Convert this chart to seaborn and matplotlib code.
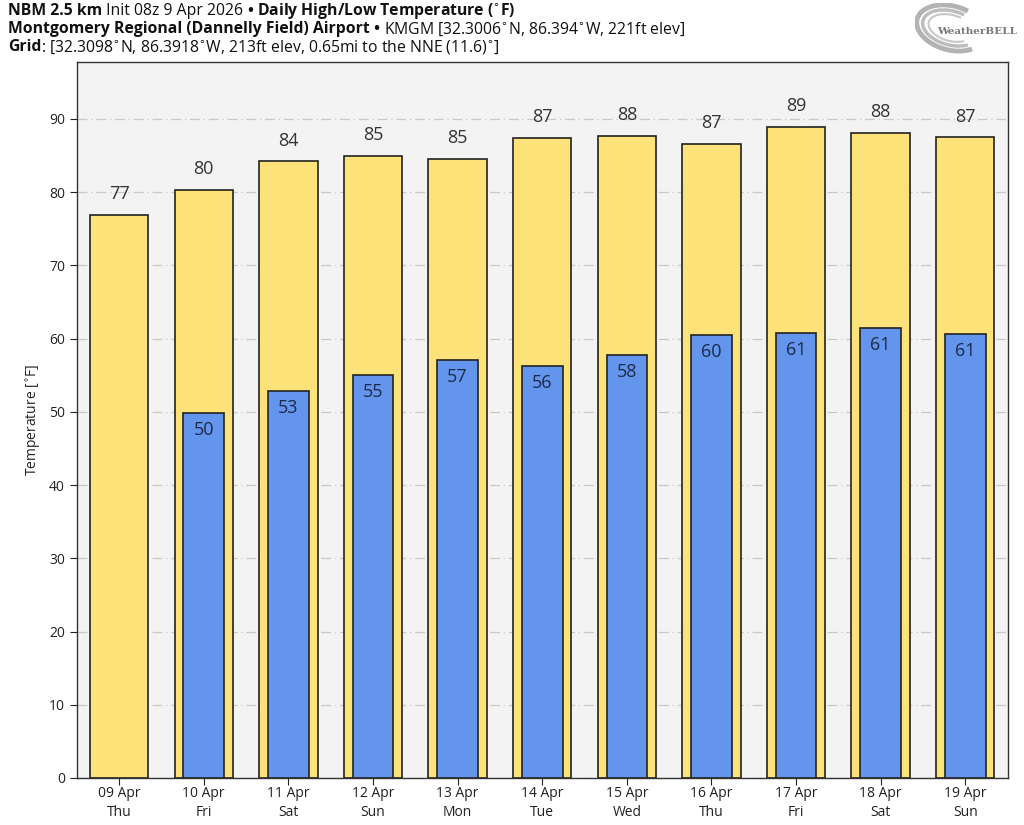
import matplotlib
matplotlib.use("Agg")
import matplotlib.pyplot as plt
from matplotlib.patches import Arc
import seaborn as sns
import pandas as pd
import numpy as np

dates = ["09 Apr", "10 Apr", "11 Apr", "12 Apr", "13 Apr", "14 Apr",
         "15 Apr", "16 Apr", "17 Apr", "18 Apr", "19 Apr"]
days = ["Thu", "Fri", "Sat", "Sun", "Mon", "Tue", "Wed", "Thu", "Fri", "Sat", "Sun"]
highs = [76.9, 80.3, 84.2, 85.0, 84.6, 87.4, 87.7, 86.6, 88.9, 88.1, 87.5]
high_labels = ["77", "80", "84", "85", "85", "87", "88", "87", "89", "88", "87"]
lows = [np.nan, 49.9, 52.9, 55.1, 57.1, 56.3, 57.8, 60.5, 60.8, 61.5, 60.7]
low_labels = ["", "50", "53", "55", "57", "56", "58", "60", "61", "61", "61"]

sns.set_theme(style="white")
plt.rcParams['font.family'] = ['Open Sans', 'DejaVu Sans']

cats = [f"{d}\n{w}" for d, w in zip(dates, days)]
df_hi = pd.DataFrame({"day": cats, "temp": highs})
df_lo = pd.DataFrame({"day": cats, "temp": lows})

fig = plt.figure(figsize=(10.24, 8.25), dpi=100)
fig.patch.set_facecolor("white")
ax = fig.add_axes([0.075, 0.057, 0.909, 0.868])
ax.set_facecolor("#f3f3f3")

sns.barplot(data=df_hi, x="day", y="temp", ax=ax, color="#fde27a", width=0.69,
            edgecolor="#222222", linewidth=1.2, saturation=1, order=cats)
sns.barplot(data=df_lo, x="day", y="temp", ax=ax, color="#6495ed", width=0.48,
            edgecolor="#222222", linewidth=1.2, saturation=1, order=cats)

for i, (h, hl) in enumerate(zip(highs, high_labels)):
    ax.text(i, h + 1.6, hl, ha="center", va="bottom", fontsize=13, color="#333333")
for i, (l, ll) in enumerate(zip(lows, low_labels)):
    if ll:
        ax.text(i, l - 1.1, ll, ha="center", va="top", fontsize=13, color="#1c2a48")

ax.set_ylim(0, 97.8)
ax.set_xlim(-0.5, len(cats) - 0.5)
ax.set_yticks(range(0, 100, 10))
ax.yaxis.grid(True, color="#c8c8c8", linestyle=(0, (8, 3, 1, 3)), linewidth=0.9)
ax.set_axisbelow(True)
ax.set_xlabel("")
ax.set_ylabel("Temperature [$^{\\circ}$F]", fontsize=10, color="#222222")
ax.tick_params(axis="both", labelsize=10, colors="#222222", length=5, width=0.8,
               left=True, bottom=True)
ax.tick_params(axis="x", pad=1)
for lab in ax.get_xticklabels():
    lab.set_linespacing(1.35)
for s in ax.spines.values():
    s.set_color("#333333")
    s.set_linewidth(1.0)

# header with mixed bold/regular pieces
renderer = fig.canvas.get_renderer()
def line(y, pieces):
    x = 8
    for txt, bold in pieces:
        t = fig.text(x / 1024, 1 - y / 825, txt, fontsize=11.3,
                     fontweight="bold" if bold else "normal", color="#111111",
                     va="center", ha="left")
        bb = t.get_window_extent(renderer=renderer)
        x += bb.width

line(11, [("NBM 2.5 km", True), (" Init 08z 9 Apr 2026 ", False), ("•", True),
          (" Daily High/Low Temperature ($^{\\circ}$F)", True)])
line(29, [("Montgomery Regional (Dannelly Field) Airport", True), (" • ", True),
          ("KMGM [32.3006$^{\\circ}$N, 86.394$^{\\circ}$W, 221ft elev]", False)])
line(47, [("Grid", True), (": [32.3098$^{\\circ}$N, 86.3918$^{\\circ}$W, 213ft elev, 0.65mi to the NNE (11.6)$^{\\circ}$]", False)])

# logo
lax = fig.add_axes([915 / 1024, 1 - 55 / 825, 100 / 1024, 52 / 825])
lax.set_xlim(0, 100)
lax.set_ylim(0, 52)
lax.axis("off")
for k, (w, h, a) in enumerate([(70, 44, 0.55), (58, 34, 0.45), (46, 26, 0.35)]):
    lax.add_patch(Arc((36, 27), w, h, angle=-15, theta1=60, theta2=330,
                      color="#9a9a9a", lw=3.5 - k, alpha=a + 0.2))
lax.text(62, 24, "WeatherBELL", fontsize=7.5, color="#777777", ha="center",
         va="center", fontweight="bold", family="DejaVu Serif")

fig.savefig("out.png", dpi=100, facecolor="white")
